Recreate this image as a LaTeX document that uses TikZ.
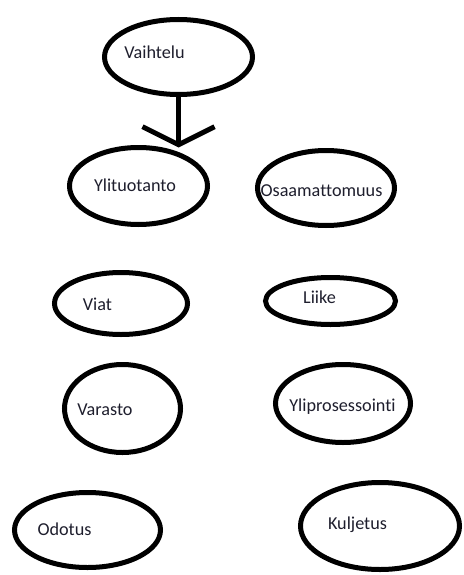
\documentclass[tikz,border=0pt]{standalone}
\usepackage{fontspec}
\setmainfont{Carlito}[Ligatures=NoCommon]
\usetikzlibrary{shapes.geometric,arrows.meta}
\begin{document}
\begin{tikzpicture}[x=1pt, y=-1pt,
    oval/.style={draw, ellipse, line width=5pt, inner sep=0pt, outer sep=0pt},
    word/.style={font=\fontsize{18.2}{22}\selectfont, text={rgb,255:red,30;green,30;blue,45}, inner sep=0pt}]
    \useasboundingbox (0,0) rectangle (463,575);
    \node[oval, minimum width=148, minimum height=75] (vaihtelu) at (178.5,57) {};
    \node[oval, minimum width=138, minimum height=77] (ylituotanto) at (138.5,186) {};
    \node[oval, minimum width=137, minimum height=75] (osaamattomuus) at (326,188) {};
    \node[oval, minimum width=133, minimum height=62] (viat) at (121,303.5) {};
    \node[oval, minimum width=130, minimum height=47] (liike) at (330.5,301) {};
    \node[oval, minimum width=116, minimum height=88] (varasto) at (122.5,408.5) {};
    \node[oval, minimum width=135, minimum height=78] (yliprosessointi) at (343,403.5) {};
    \node[oval, minimum width=146, minimum height=75] (odotus) at (87.5,530) {};
    \node[oval, minimum width=159, minimum height=87] (kuljetus) at (380,526) {};
    % texts
    \node[word] (vaihtelutext) at (154.5,52) {Vaihtelu};
    \node[word] (ylituotantotext) at (135,185) {Ylituotanto};
    \node[word] (osaamattomuustext) at (321.5,191) {Osaamattomuus};
    \node[word] (viattext) at (97.5,304) {Viat};
    \node[word] (liiketext) at (319.5,297) {Liike};
    \node[word] (varastotext) at (105,410) {Varasto};
    \node[word] (yliprosessointitext) at (342.5,407) {Yliprosessointi};
    \node[word] (odotustext) at (64.5,529) {Odotus};
    \node[word] (kuljetustext) at (357.5,525) {Kuljetus};
    \draw[line width=5pt, -{Straight Barb[length=18pt, width=72pt]}]
      (vaihtelu.south) -- (vaihtelu.south |- ylituotanto.north);
\end{tikzpicture}
\end{document}
